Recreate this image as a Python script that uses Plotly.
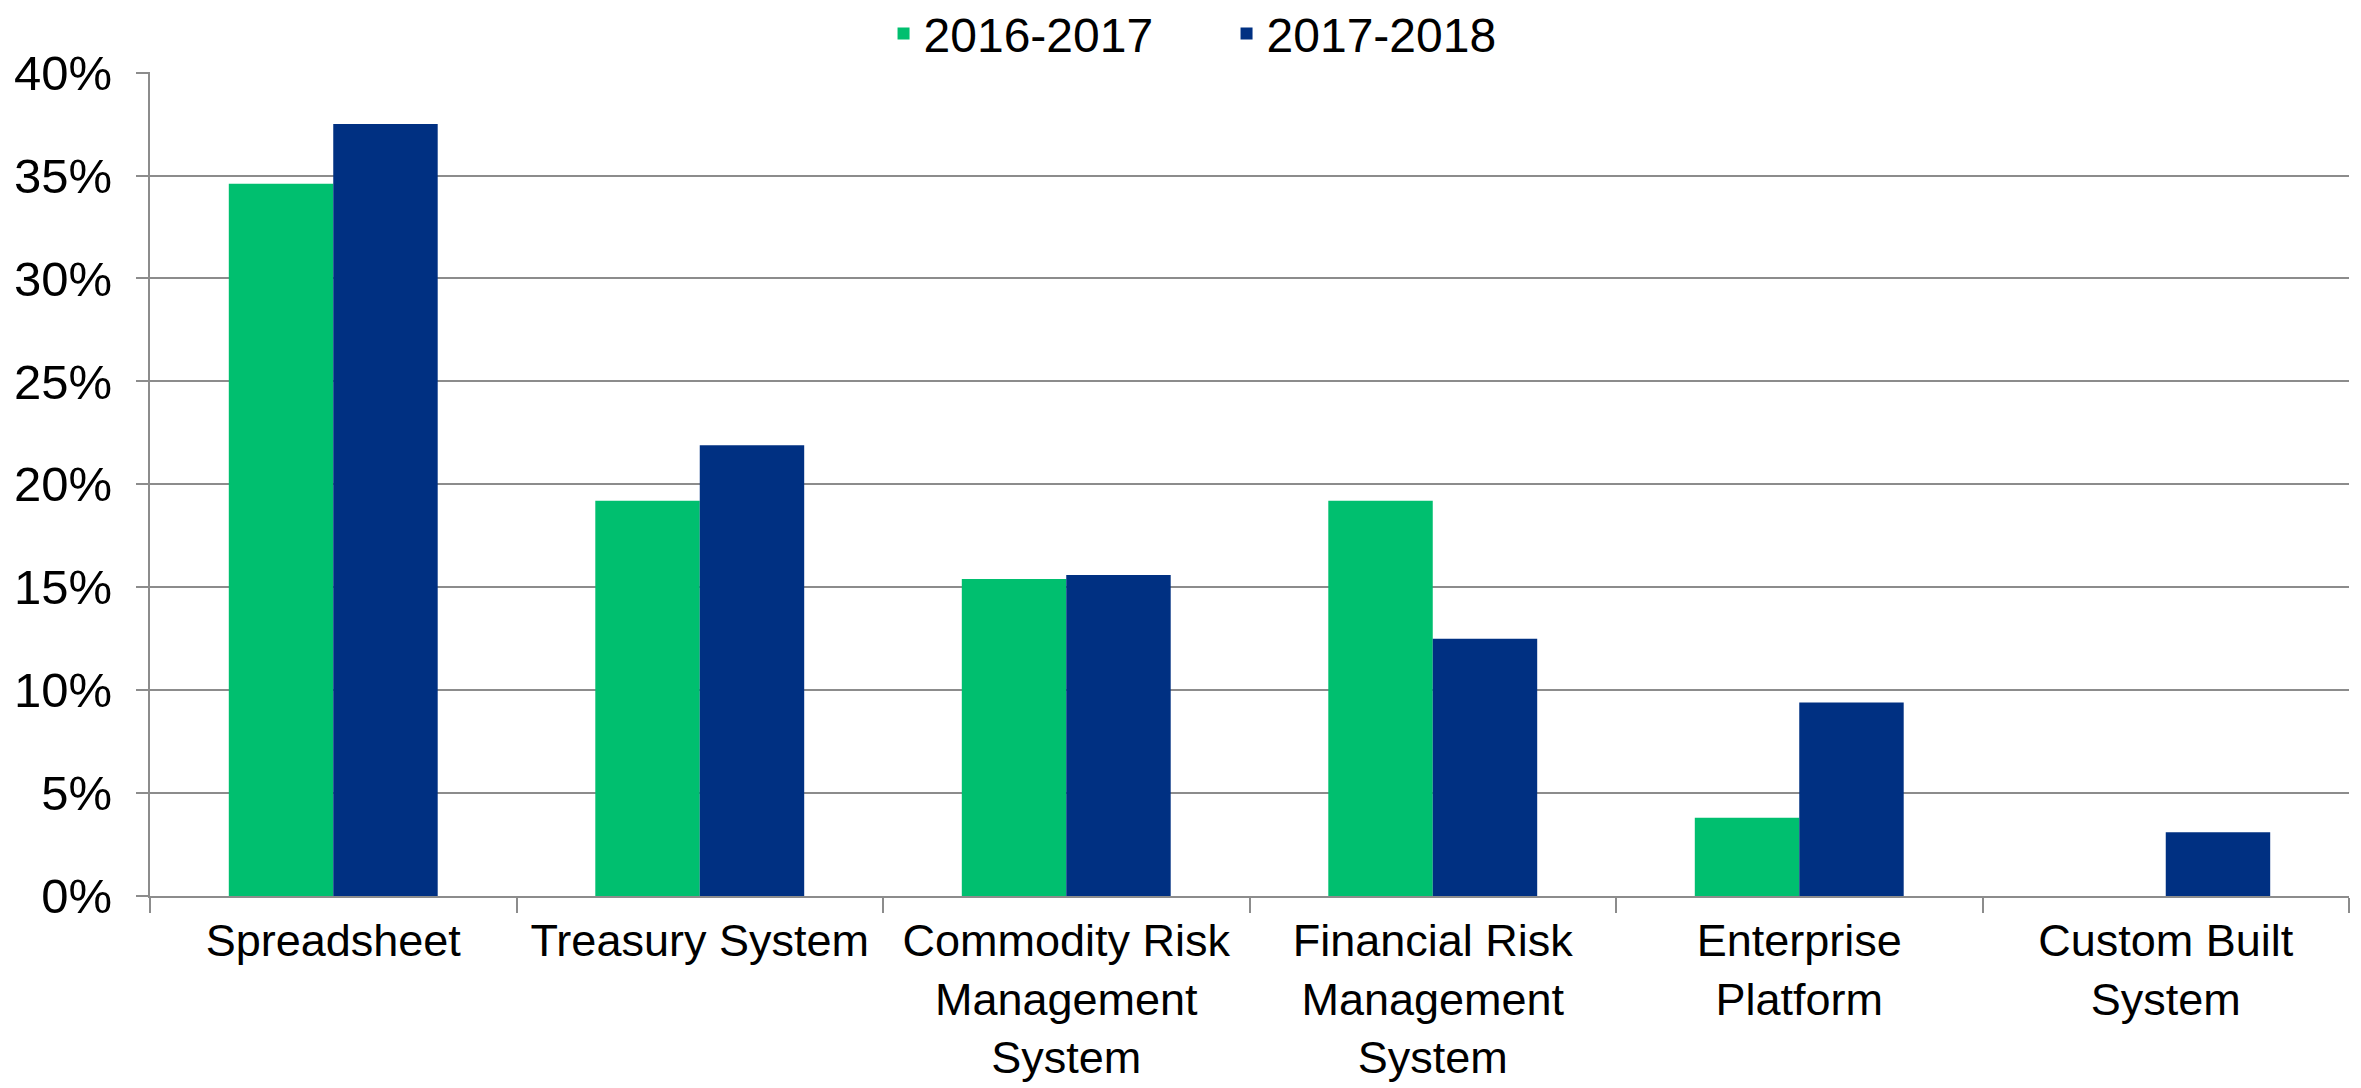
import plotly.graph_objects as go

categories = [
    "Spreadsheet",
    "Treasury System",
    "Commodity Risk<br>Management<br>System",
    "Financial Risk<br>Management<br>System",
    "Enterprise<br>Platform",
    "Custom Built<br>System",
]
series_names = ["2016-2017", "2017-2018"]
values_2016_2017 = [0.346, 0.192, 0.154, 0.192, 0.038, 0.0]
values_2017_2018 = [0.375, 0.219, 0.156, 0.125, 0.094, 0.031]
colors = ["#00BF6F", "#003082"]

FONT = "Liberation Sans, Arial, sans-serif"
GRID = "#8C8C8C"

fig = go.Figure()
for name, vals, col in zip(series_names, [values_2016_2017, values_2017_2018], colors):
    fig.add_trace(go.Bar(
        x=categories, y=vals, name=name,
        marker=dict(color=col, line=dict(width=0)),
    ))

fig.update_layout(
    width=2361, height=1088,
    margin=dict(l=150, r=12, t=72, b=192, pad=0, autoexpand=False),
    paper_bgcolor="white", plot_bgcolor="white",
    barmode="group", bargap=0.43, bargroupgap=0,
    font=dict(family=FONT, size=47, color="black"),
    showlegend=True,
    legend=dict(
        orientation="h", xref="container", yref="container",
        x=0.5195, xanchor="center", y=0.969, yanchor="middle",
        font=dict(family=FONT, size=48, color="black"),
        entrywidth=298, entrywidthmode="pixels",
        traceorder="normal", bgcolor="rgba(0,0,0,0)",
    ),
)
fig.update_yaxes(
    range=[0, 0.4003], tickvals=[0, 0.05, 0.1, 0.15, 0.2, 0.25, 0.3, 0.35, 0.4],
    tickformat=".0%",
    showgrid=True, gridcolor=GRID, gridwidth=2,
    showline=True, linecolor=GRID, linewidth=2,
    ticks="outside", ticklen=12, tickcolor=GRID, tickwidth=2,
    zeroline=False, ticklabelstandoff=14, automargin=False,
    tickfont=dict(family=FONT, size=49, color="black"),
)
fig.update_xaxes(
    showline=True, linecolor=GRID, linewidth=2,
    ticks="outside", ticklen=15, tickcolor=GRID, tickwidth=2,
    tickson="boundaries", showgrid=False, automargin=False,
    ticklabelstandoff=4,
    tickfont=dict(family=FONT, size=45, color="black"),
    tickangle=0,
)

fig.write_html(
    "out.html",
    config={"displayModeBar": False},
    post_script="document.body.style.margin='0';document.body.style.overflow='hidden';",
)
